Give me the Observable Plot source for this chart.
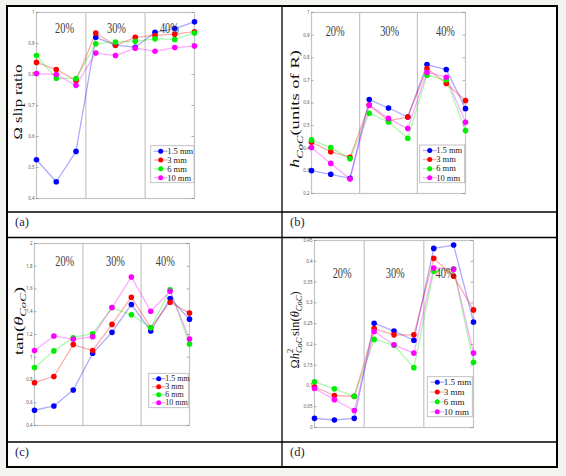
<!DOCTYPE html>
<html>
<head>
<meta charset="utf-8">
<script src="https://cdn.jsdelivr.net/npm/d3@7"></script>
<script src="https://cdn.jsdelivr.net/npm/@observablehq/plot@0.6"></script>
<style>
  html, body { margin: 0; padding: 0; background: #f3f3ef; }
  #page { position: relative; width: 566px; height: 476px; overflow: hidden; }
  #sheet { position: absolute; left: 7px; top: 6px; width: 550px; height: 461px; background: #fff; }
  #page svg { position: absolute; max-width: none; }
</style>
</head>
<body>
<div id="page"><div id="sheet"></div></div>
<script>
// Series and cases shared by all four panels
const series = ["1.5 mm", "3 mm", "6 mm", "10 mm"];
const seriesColors = ["#0000ff", "#ff0000", "#00ee00", "#ff00ff"];
const cases = [1, 2, 3, 4, 5, 6, 7, 8, 9];
const groupNames = ["20%", "30%", "40%"];
const groupBounds = [3.5, 6.5];

// (a) slip ratio
const slipTicks = [0.4, 0.5, 0.6, 0.7, 0.8, 0.9, 1];
const slip15 = [0.525, 0.454, 0.552, 0.920, 0.895, 0.888, 0.936, 0.948, 0.970];
const slip3  = [0.839, 0.816, 0.781, 0.934, 0.894, 0.920, 0.926, 0.930, 0.938];
const slip6  = [0.861, 0.788, 0.787, 0.899, 0.905, 0.907, 0.915, 0.913, 0.934];
const slip10 = [0.803, 0.800, 0.765, 0.869, 0.861, 0.885, 0.875, 0.887, 0.892];

// (b) height of the centre of curvature
const hTicks = [0.2, 0.3, 0.4, 0.5, 0.6, 0.7, 0.8, 0.9, 1];
const h15 = [0.301, 0.285, 0.267, 0.615, 0.578, 0.538, 0.770, 0.748, 0.575];
const h3  = [0.426, 0.385, 0.360, 0.591, 0.522, 0.538, 0.752, 0.686, 0.611];
const h6  = [0.437, 0.403, 0.354, 0.555, 0.516, 0.444, 0.723, 0.702, 0.478];
const h10 = [0.403, 0.333, 0.264, 0.591, 0.532, 0.487, 0.736, 0.714, 0.515];

// (c) tan of the centre-of-curvature angle
const tanTicks = [0.4, 0.6, 0.8, 1, 1.2, 1.4, 1.6, 1.8, 2];
const tan15 = [0.534, 0.572, 0.712, 1.035, 1.219, 1.464, 1.231, 1.516, 1.335];
const tan3  = [0.776, 0.831, 1.111, 1.059, 1.289, 1.528, 1.260, 1.484, 1.388];
const tan6  = [0.910, 1.056, 1.172, 1.207, 1.437, 1.373, 1.260, 1.592, 1.117];
const tan10 = [1.059, 1.187, 1.158, 1.181, 1.437, 1.706, 1.405, 1.580, 1.161];

// (d) combined quantity
const combTicks = [0, 0.05, 0.1, 0.15, 0.2, 0.25, 0.3, 0.35, 0.4, 0.45];
const comb15 = [0.022, 0.018, 0.022, 0.251, 0.232, 0.210, 0.431, 0.439, 0.254];
const comb3  = [0.098, 0.077, 0.075, 0.238, 0.223, 0.223, 0.407, 0.364, 0.283];
const comb6  = [0.110, 0.093, 0.075, 0.212, 0.198, 0.144, 0.376, 0.381, 0.157];
const comb10 = [0.094, 0.067, 0.041, 0.231, 0.199, 0.179, 0.384, 0.381, 0.179];

const serif = "Liberation Serif, Times New Roman, serif";

// Layout of the four cells (page pixels)
const panels = [
  {
    letter: "(a)", letterAt: [15, 222],
    cell: {x: 8, y: 8, w: 273, h: 203}, frame: [36, 194, 12, 198],
    yDomain: [0.4, 1], yTicks: slipTicks, values: [slip15, slip3, slip6, slip10],
    groupX: [2.42, 5.05, 7.73], groupDy: 10,
    legend: {x: 150.7, y: 145.7, w: 43.3, h: 37, fs: 8.5},
    ylabel: {cx: 21.7, cy: 102, len: 75, parts: [{t: "Ω"}, {t: " slip ratio"}]}
  },
  {
    letter: "(b)", letterAt: [290, 222],
    cell: {x: 283, y: 8, w: 273, h: 203}, frame: [311, 465, 12, 193],
    yDomain: [0.2, 1], yTicks: hTicks, values: [h15, h3, h6, h10],
    groupX: [2.23, 5.06, 7.96], groupDy: 13,
    legend: {x: 419.7, y: 145, w: 45, h: 37.7, fs: 8.5},
    ylabel: {cx: 298.3, cy: 109, len: 118, parts: [
      {t: "h", it: true}, {t: "CoC", it: true, pos: "sub"}, {t: "(units of R)"}]}
  },
  {
    letter: "(c)", letterAt: [15, 452],
    cell: {x: 8, y: 239, w: 273, h: 202}, frame: [34, 189, 243, 425],
    yDomain: [0.4, 2], yTicks: tanTicks, values: [tan15, tan3, tan6, tan10],
    groupX: [2.56, 5.18, 7.75], groupDy: 12,
    legend: {x: 148.7, y: 373.3, w: 39.6, h: 34.4, fs: 8},
    ylabel: {cx: 22, cy: 321, len: 68, parts: [
      {t: "tan("}, {t: "θ", it: true}, {t: "CoC", it: true, pos: "sub"}, {t: ")"}]}
  },
  {
    letter: "(d)", letterAt: [290, 452],
    cell: {x: 283, y: 239, w: 273, h: 202}, frame: [314, 473, 240, 427],
    yDomain: [0, 0.45], yTicks: combTicks, values: [comb15, comb3, comb6, comb10],
    groupX: [2.39, 5.06, 7.57], groupDy: 26.7,
    legend: {x: 427.3, y: 376.7, w: 45, h: 40, fs: 9},
    ylabel: {cx: 298, cy: 330, len: 80, parts: [
      {t: "Ω"}, {t: "h", it: true}, {t: "2", pos: "sup"},
      {t: "CoC", it: true, pos: "sub", back: true},
      {t: "sin(", lead: 1.5}, {t: "θ", it: true}, {t: "CoC", it: true, pos: "sub"}, {t: ")"}]}
  }
];

const page = document.getElementById("page");

function drawPanel(p) {
  const rows = series.flatMap((s, k) =>
    p.values[k].map((v, i) => ({series: s, case: cases[i], value: v})));
  const fw = p.frame[1] - p.frame[0];
  const svg = Plot.plot({
    width: p.cell.w,
    height: p.cell.h,
    marginLeft: p.frame[0] - p.cell.x,
    marginRight: p.cell.x + p.cell.w - p.frame[1],
    marginTop: p.frame[2] - p.cell.y,
    marginBottom: p.cell.y + p.cell.h - p.frame[3],
    style: {background: "transparent", overflow: "visible"},
    x: {domain: [1, 9], axis: null},
    y: {domain: p.yDomain, axis: null},
    color: {domain: series, range: seriesColors},
    marks: [
      Plot.ruleX(groupBounds, {stroke: "#c4c4c4", strokeWidth: 1.2}),
      Plot.frame({stroke: "#c4c4c4", strokeWidth: 1.2}),
      Plot.ruleY(p.yTicks, {insetRight: fw - 2.5, stroke: "#777", strokeWidth: 0.6}),
      Plot.ruleY(p.yTicks, {insetLeft: fw - 2.5, stroke: "#777", strokeWidth: 0.6}),
      Plot.axisY({ticks: p.yTicks, tickSize: 0, tickPadding: 2, fontSize: 4.5,
        color: "#555", tickFormat: (d) => String(d), label: null}),
      Plot.line(rows, {x: "case", y: "value", z: "series", stroke: "series",
        strokeOpacity: 0.33, strokeWidth: 1.3}),
      Plot.dot(rows, {x: "case", y: "value", fill: "series", r: 2.8}),
      Plot.text(groupNames, {x: (d, i) => p.groupX[i], text: (d) => d,
        frameAnchor: "top", dy: p.groupDy, fontSize: 14.5, fontFamily: serif, fill: "#3a3a3a"})
    ]
  });
  svg.style.left = p.cell.x + "px";
  svg.style.top = p.cell.y + "px";
  page.appendChild(svg);

  // narrow the group labels to the figure's condensed lettering
  d3.select(svg).selectAll('g[aria-label="text"] text').each(function () {
    const len = this.getComputedTextLength();
    if (!len) return;
    const s = 19 / len;
    const tr = this.getAttribute("transform");
    if (tr) this.setAttribute("transform", tr + ` scale(${s},1)`);
    else {
      const x = +this.getAttribute("x") || 0;
      this.removeAttribute("x");
      this.setAttribute("transform", `translate(${x},0) scale(${s},1)`);
    }
  });
}

panels.forEach(drawPanel);

// Overlay: table rules, panel letters, axis titles and legends
const over = d3.select(page).append("svg")
  .attr("width", 566).attr("height", 476)
  .style("left", "0px").style("top", "0px");

over.append("rect").attr("x", 7).attr("y", 6).attr("width", 550).attr("height", 461)
  .attr("fill", "none").attr("stroke", "#000").attr("stroke-width", 2);
over.append("line").attr("x1", 282).attr("x2", 282).attr("y1", 6).attr("y2", 467)
  .attr("stroke", "#000").attr("stroke-width", 1.3);
[[212, 1.3], [237.5, 1.6], [442, 1.3]].forEach(([y, w]) =>
  over.append("line").attr("x1", 7).attr("x2", 557).attr("y1", y).attr("y2", y)
    .attr("stroke", "#000").attr("stroke-width", w));

panels.forEach((p) => {
  // panel letter
  over.append("text").attr("x", p.letterAt[0]).attr("y", p.letterAt[1])
    .attr("dy", "0.35em").attr("font-family", serif).attr("font-size", 12.5)
    .attr("fill", "#1c2246").text(p.letter);

  // rotated axis title
  const fs = 12.5;
  const t = over.append("text").attr("font-family", serif).attr("font-size", fs)
    .attr("fill", "#111").attr("text-anchor", "middle").attr("dy", 0.35 * fs);
  let shift = 0;
  p.ylabel.parts.forEach((part) => {
    const target = part.pos === "sub" ? 0.3 * fs : part.pos === "sup" ? -0.42 * fs : 0;
    const ts = t.append("tspan").text(part.t).attr("dy", target - shift);
    shift = target;
    if (part.it) ts.attr("font-style", "italic");
    if (part.pos) ts.attr("font-size", 0.68 * fs);
    if (part.back) ts.attr("dx", -0.34 * fs);
    if (part.lead) ts.attr("dx", part.lead);
  });
  const len = t.node().getComputedTextLength();
  t.attr("transform", `translate(${p.ylabel.cx + 0.05 * fs},${p.ylabel.cy}) rotate(-90) scale(${p.ylabel.len / len},1)`);

  // legend box
  const L = p.legend;
  const g = over.append("g");
  g.append("rect").attr("x", L.x).attr("y", L.y).attr("width", L.w).attr("height", L.h)
    .attr("fill", "#fff").attr("stroke", "#b4b4b4").attr("stroke-width", 0.8);
  series.forEach((s, i) => {
    const y = L.y + 5.5 + i * (L.h - 10.5) / 3;
    g.append("line").attr("x1", L.x + 3).attr("x2", L.x + 17).attr("y1", y).attr("y2", y)
      .attr("stroke", seriesColors[i]).attr("stroke-opacity", 0.33).attr("stroke-width", 1.3);
    g.append("circle").attr("cx", L.x + 10).attr("cy", y).attr("r", 2.5)
      .attr("fill", seriesColors[i]);
    g.append("text").attr("x", L.x + 16.5).attr("y", y).attr("dy", "0.33em")
      .attr("font-family", serif).attr("font-size", L.fs).attr("fill", "#222").text(s);
  });
});
</script>
</body>
</html>
